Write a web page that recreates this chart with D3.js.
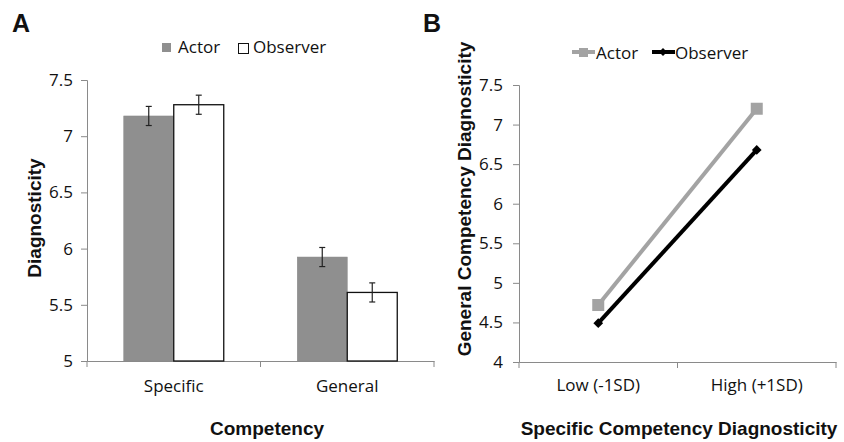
<!DOCTYPE html>
<html>
<head>
<meta charset="utf-8">
<script src="https://cdn.jsdelivr.net/npm/d3@7"></script>
<style>
  body { margin: 0; background: #fff; }
  text { font-family: "Open Sans", sans-serif; fill: #111; }
  .title { font-family: "Liberation Sans", Arial, sans-serif; font-weight: bold; }
</style>
</head>
<body>
<svg id="chart" width="844" height="442"></svg>
<script>
// ---- data ----
const competency = ["Specific", "General"];
const roles = ["Actor", "Observer"];
const actorMean = [7.18, 5.925];
const observerMean = [7.28, 5.61];
const actorErr = [0.085, 0.085];
const observerErr = [0.085, 0.085];
const yTicksA = [5, 5.5, 6, 6.5, 7, 7.5];

const levels = ["Low (-1SD)", "High (+1SD)"];
const actorLine = [4.72, 7.20];
const observerLine = [4.49, 6.68];
const yTicksB = [4, 4.5, 5, 5.5, 6, 6.5, 7, 7.5];

const svg = d3.select("#chart");
const axisColor = "#8a8a8a";
const actorFill = "#8f8f8f";
const actorLineColor = "#a3a3a3";

function styleAxis(g) {
  g.select(".domain").attr("stroke", axisColor);
  g.selectAll(".tick line").attr("stroke", axisColor);
  g.selectAll(".tick text").attr("font-size", 17).attr("fill", "#111")
    .attr("font-family", "Open Sans, sans-serif");
}

// ================= Panel A =================
const yA = d3.scaleLinear().domain([5, 7.5]).range([361, 80]);
const xA = d3.scaleBand().domain(competency).range([87, 434]).padding(0);
const xSub = d3.scaleBand().domain(roles).range([0, xA.bandwidth()])
  .paddingInner(0).paddingOuter(0.735);

svg.append("text").attr("class", "title").attr("x", 12).attr("y", 32)
  .attr("font-size", 25).text("A");

const gA = svg.append("g");

gA.append("g").attr("transform", "translate(87,0)")
  .call(d3.axisLeft(yA).tickValues(yTicksA).tickSize(6).tickPadding(8)
    .tickFormat(d3.format("")))
  .call(styleAxis);

const xAxisA = gA.append("g").attr("transform", "translate(0,361)")
  .call(d3.axisBottom(xA).tickSize(0).tickPadding(19))
  .call(styleAxis);
// category boundary ticks
const boundsA = competency.map(c => xA(c)).concat([xA(competency[competency.length - 1]) + xA.bandwidth()]);
xAxisA.selectAll(".bound").data(boundsA).enter().append("line")
  .attr("x1", d => d).attr("x2", d => d).attr("y1", 0).attr("y2", 6)
  .attr("stroke", axisColor);

const groups = gA.selectAll(".grp").data(competency).enter().append("g")
  .attr("transform", d => `translate(${xA(d)},0)`);

groups.each(function(c, i) {
  const g = d3.select(this);
  const vals = [
    { role: "Actor", v: actorMean[i], e: actorErr[i] },
    { role: "Observer", v: observerMean[i], e: observerErr[i] }
  ];
  g.selectAll("rect").data(vals).enter().append("rect")
    .attr("x", d => xSub(d.role))
    .attr("y", d => yA(d.v))
    .attr("width", xSub.bandwidth())
    .attr("height", d => yA(5) - yA(d.v))
    .attr("fill", d => d.role === "Actor" ? actorFill : "#fff")
    .attr("stroke", d => d.role === "Actor" ? "#888" : "#111")
    .attr("stroke-width", d => d.role === "Actor" ? 0.5 : 1.3);
  const eb = g.selectAll(".err").data(vals).enter().append("g");
  eb.append("line")
    .attr("x1", d => xSub(d.role) + xSub.bandwidth() / 2)
    .attr("x2", d => xSub(d.role) + xSub.bandwidth() / 2)
    .attr("y1", d => yA(d.v + d.e)).attr("y2", d => yA(d.v - d.e))
    .attr("stroke", "#222").attr("stroke-width", 1.2);
  [1, -1].forEach(s => {
    eb.append("line")
      .attr("x1", d => xSub(d.role) + xSub.bandwidth() / 2 - 3)
      .attr("x2", d => xSub(d.role) + xSub.bandwidth() / 2 + 3)
      .attr("y1", d => yA(d.v + s * d.e)).attr("y2", d => yA(d.v + s * d.e))
      .attr("stroke", "#222").attr("stroke-width", 1.2);
  });
});

// legend A
const legA = svg.append("g");
legA.append("rect").attr("x", 162).attr("y", 43).attr("width", 9).attr("height", 9)
  .attr("fill", actorFill);
legA.append("text").attr("x", 178).attr("y", 53).attr("font-size", 17).text("Actor");
legA.append("rect").attr("x", 238.5).attr("y", 43.5).attr("width", 10).attr("height", 10)
  .attr("fill", "#fff").attr("stroke", "#111").attr("stroke-width", 1);
legA.append("text").attr("x", 253).attr("y", 53).attr("font-size", 17).text("Observer");

svg.append("text").attr("class", "title")
  .attr("transform", "translate(41,218) rotate(-90)")
  .attr("text-anchor", "middle").attr("font-size", 19).text("Diagnosticity");
svg.append("text").attr("class", "title")
  .attr("x", 267).attr("y", 435).attr("text-anchor", "middle")
  .attr("font-size", 19).text("Competency");

// ================= Panel B =================
const yB = d3.scaleLinear().domain([4, 7.5]).range([362, 85]);
const xB = d3.scaleBand().domain(levels).range([519, 836]).padding(0);
const cx = d => xB(d) + xB.bandwidth() / 2;

svg.append("text").attr("class", "title").attr("x", 423).attr("y", 32)
  .attr("font-size", 25).text("B");

const gB = svg.append("g");
gB.append("g").attr("transform", "translate(519,0)")
  .call(d3.axisLeft(yB).tickValues(yTicksB).tickSize(6).tickPadding(10)
    .tickFormat(d3.format("")))
  .call(styleAxis);
const xAxisB = gB.append("g").attr("transform", "translate(0,362)")
  .call(d3.axisBottom(xB).tickSize(0).tickPadding(17))
  .call(styleAxis);
const boundsB = levels.map(c => xB(c)).concat([xB(levels[levels.length - 1]) + xB.bandwidth()]);
xAxisB.selectAll(".bound").data(boundsB).enter().append("line")
  .attr("x1", d => d).attr("x2", d => d).attr("y1", 0).attr("y2", 6)
  .attr("stroke", axisColor);

const line = d3.line().x(d => cx(d.k)).y(d => yB(d.v));
const actorPts = levels.map((k, i) => ({ k, v: actorLine[i] }));
const obsPts = levels.map((k, i) => ({ k, v: observerLine[i] }));

gB.append("path").datum(actorPts).attr("d", line).attr("fill", "none")
  .attr("stroke", actorLineColor).attr("stroke-width", 4);
gB.selectAll(".sq").data(actorPts).enter().append("rect")
  .attr("x", d => cx(d.k) - 6).attr("y", d => yB(d.v) - 6)
  .attr("width", 12).attr("height", 12).attr("fill", actorLineColor);

gB.append("path").datum(obsPts).attr("d", line).attr("fill", "none")
  .attr("stroke", "#000").attr("stroke-width", 4);
const diamond = d3.symbol().type(d3.symbolDiamond2).size(60);
gB.selectAll(".dm").data(obsPts).enter().append("path")
  .attr("d", diamond)
  .attr("transform", d => `translate(${cx(d.k)},${yB(d.v)})`)
  .attr("fill", "#000");

// legend B
const legB = svg.append("g");
legB.append("line").attr("x1", 572).attr("x2", 595).attr("y1", 52).attr("y2", 52)
  .attr("stroke", actorLineColor).attr("stroke-width", 4);
legB.append("rect").attr("x", 579).attr("y", 48).attr("width", 9).attr("height", 9)
  .attr("fill", actorLineColor);
legB.append("text").attr("x", 596).attr("y", 59).attr("font-size", 17).text("Actor");
legB.append("line").attr("x1", 652).attr("x2", 675).attr("y1", 52).attr("y2", 52)
  .attr("stroke", "#000").attr("stroke-width", 4);
legB.append("path").attr("d", d3.symbol().type(d3.symbolDiamond2).size(40))
  .attr("transform", "translate(663,52)").attr("fill", "#000");
legB.append("text").attr("x", 675).attr("y", 59).attr("font-size", 17).text("Observer");

svg.append("text").attr("class", "title")
  .attr("transform", "translate(471,199) rotate(-90)")
  .attr("text-anchor", "middle").attr("font-size", 19).text("General Competency Diagnosticity");
svg.append("text").attr("class", "title")
  .attr("x", 679).attr("y", 435).attr("text-anchor", "middle")
  .attr("font-size", 19).text("Specific Competency Diagnosticity");
</script>
</body>
</html>
